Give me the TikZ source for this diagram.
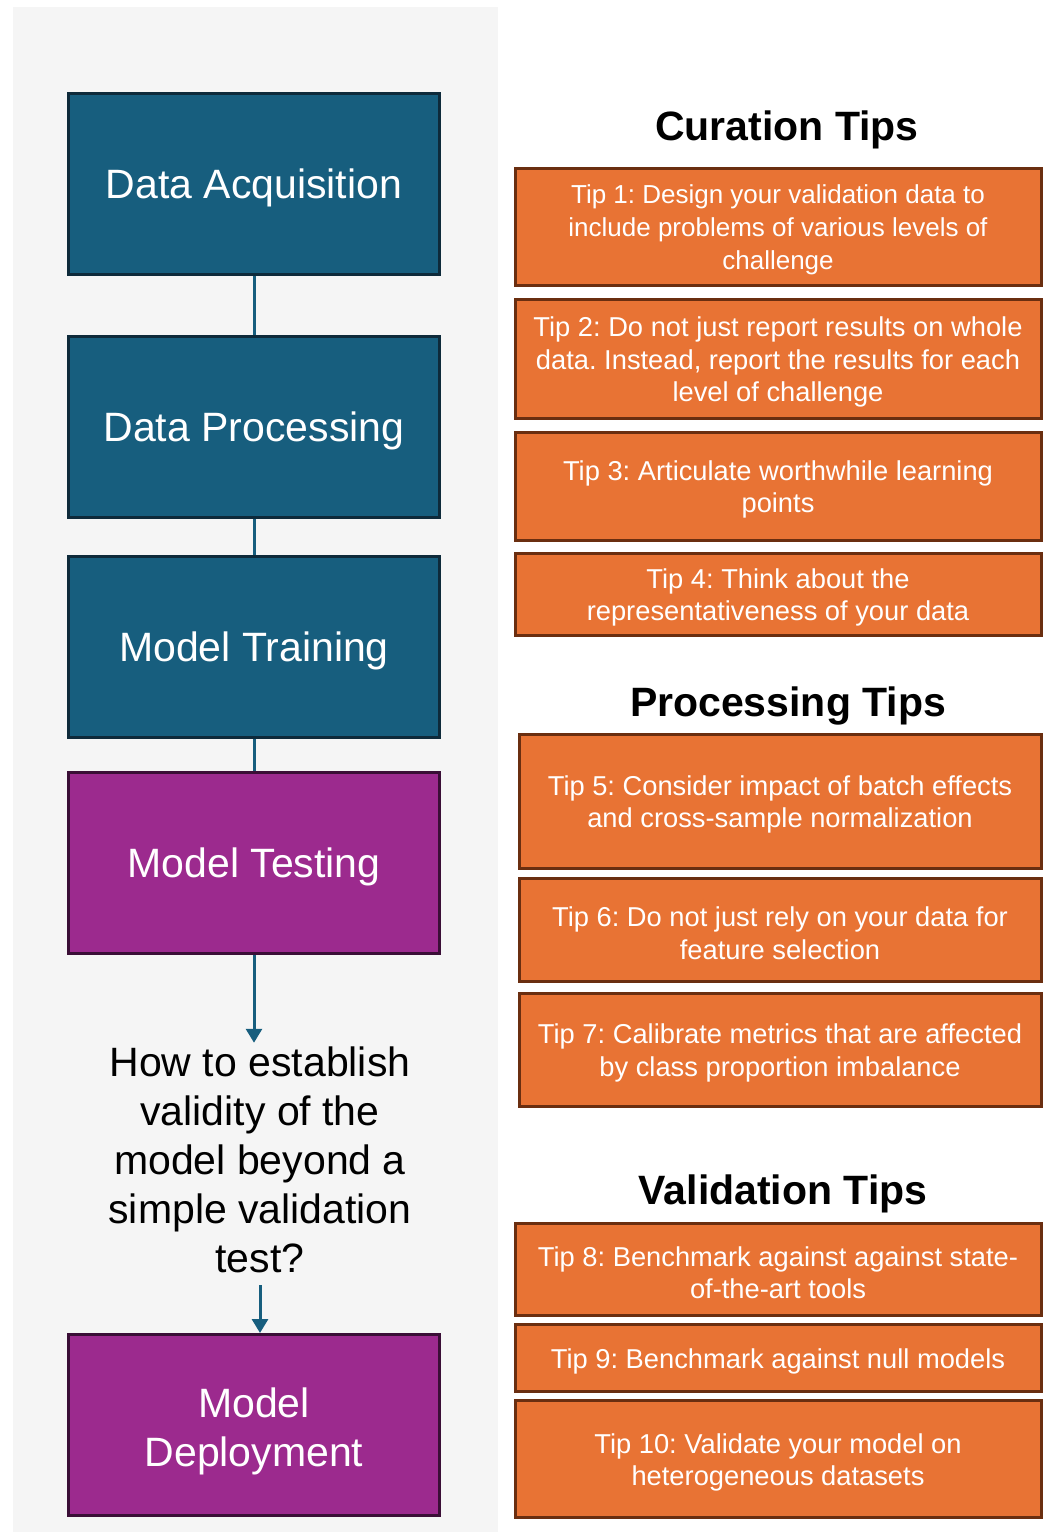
\documentclass[tikz,border=0pt]{standalone}
\usepackage{fontspec}
\setmainfont{Liberation Sans}
\frenchspacing
\usetikzlibrary{arrows.meta}
\definecolor{stageblue}{HTML}{175E7E}
\definecolor{stageblueline}{HTML}{0E2A3A}
\definecolor{stagepurple}{HTML}{9C2A8E}
\definecolor{stagepurpleline}{HTML}{3A0E36}
\definecolor{tiporange}{HTML}{E87334}
\definecolor{tipline}{HTML}{6A2E10}
\definecolor{panelgray}{HTML}{F5F5F5}
\tikzset{
  stagebox/.style={draw=stageblueline, line width=3pt, fill=stageblue,
    minimum width=371pt, minimum height=181pt, inner sep=0pt},
  purplebox/.style={stagebox, draw=stagepurpleline, fill=stagepurple},
  stagetext/.style={text=white, inner sep=0pt, align=center,
    font=\fontsize{41}{49}\selectfont},
  tipbox/.style={draw=tipline, line width=3pt, fill=tiporange, inner sep=0pt},
  tiptext/.style={text=white, inner sep=0pt, align=center,
    font=\fontsize{27.3}{32.5}\selectfont},
  tiptitle/.style={font=\fontsize{41}{48}\selectfont\bfseries, text=black, inner sep=0pt},
  link/.style={draw=stageblue, line width=3pt},
  arr/.style={link, -{Triangle[width=16pt,length=14pt]}}
}
\begin{document}
\begin{tikzpicture}[x=1pt,y=-1pt]
\useasboundingbox (0,0) rectangle (1050,1532);
\fill[white] (0,0) rectangle (1050,1532);
\fill[panelgray] (13,7) rectangle (498,1532);

% left flow
\node[stagebox] (acq) at (254,183.5) {};
\node[stagetext] (acqt) at ([yshift=-4pt]acq.center) {Data Acquisition};
\node[stagebox] (proc) at (254,427) {};
\node[stagetext] (proct) at ([yshift=-4pt]proc.center) {Data Processing};
\node[stagebox] (train) at (254,647) {};
\node[stagetext] (traint) at ([yshift=-4pt]train.center) {Model Training};
\node[purplebox] (test) at (254,863) {};
\node[stagetext] (testt) at ([yshift=-4pt]test.center) {Model Testing};
\node[stagetext, text=black, inner ysep=12pt] (q) at (260,1160)
  {How to establish\\validity of the\\model beyond a\\simple validation\\test?};
\node[purplebox] (deploy) at (254,1425) {};
\node[stagetext] (deployt) at ([yshift=-6pt]deploy.center) {Model\\Deployment};

\draw[link] (acq.south) -- (proc.north);
\draw[link] (proc.south) -- (train.north);
\draw[link] (train.south) -- (test.north);
\draw[arr, shorten >=-8pt] (test.south) -- (test.south |- q.north);
\draw[arr] (q.south) -- (q.south |- deploy.north);

% right tips
\node[tiptitle] (cur) at (787,130) {Curation Tips};
\node[tipbox, minimum width=526pt, minimum height=117pt] (t1) at (778,226.5) {};
\node[tiptext, font=\fontsize{26}{33}\selectfont] (t1t) at ([yshift=-3.5pt]t1.center)
  {Tip 1: Design your validation data to\\include problems of various levels of\\challenge};
\node[tipbox, minimum width=526pt, minimum height=119pt] (t2) at (778,358.5) {};
\node[tiptext] (t2t) at ([yshift=-3.5pt]t2.center)
  {Tip 2: Do not just report results on whole\\data. Instead, report the results for each\\level of challenge};
\node[tipbox, minimum width=526pt, minimum height=108pt] (t3) at (778,486) {};
\node[tiptext] (t3t) at ([yshift=-3.5pt]t3.center)
  {Tip 3: Articulate worthwhile learning\\points};
\node[tipbox, minimum width=526pt, minimum height=82pt] (t4) at (778,594) {};
\node[tiptext] (t4t) at ([yshift=-3.5pt]t4.center)
  {Tip 4: Think about the\\representativeness of your data};

\node[tiptitle] (pro) at (788,706) {Processing Tips};
\node[tipbox, minimum width=522pt, minimum height=134pt] (t5) at (780,801) {};
\node[tiptext] (t5t) at ([yshift=-3.5pt]t5.center)
  {Tip 5: Consider impact of batch effects\\and cross-sample normalization};
\node[tipbox, minimum width=522pt, minimum height=103pt] (t6) at (780,929.5) {};
\node[tiptext] (t6t) at ([yshift=-3.5pt]t6.center)
  {Tip 6: Do not just rely on your data for\\feature selection};
\node[tipbox, minimum width=522pt, minimum height=113pt] (t7) at (780,1049.5) {};
\node[tiptext] (t7t) at ([yshift=-3.5pt]t7.center)
  {Tip 7: Calibrate metrics that are affected\\by class proportion imbalance};

\node[tiptitle] (val) at (783,1194) {Validation Tips};
\node[tipbox, minimum width=526pt, minimum height=92pt] (t8) at (778,1269) {};
\node[tiptext] (t8t) at ([yshift=-3.5pt]t8.center)
  {Tip 8: Benchmark against against state-\\of-the-art tools};
\node[tipbox, minimum width=526pt, minimum height=67pt] (t9) at (778,1357.5) {};
\node[tiptext] (t9t) at ([yshift=-3.5pt]t9.center)
  {Tip 9: Benchmark against null models};
\node[tipbox, minimum width=526pt, minimum height=117pt] (t10) at (778,1458.5) {};
\node[tiptext] (t10t) at ([yshift=-4pt]t10.center)
  {Tip 10: Validate your model on\\heterogeneous datasets};
\end{tikzpicture}
\end{document}
